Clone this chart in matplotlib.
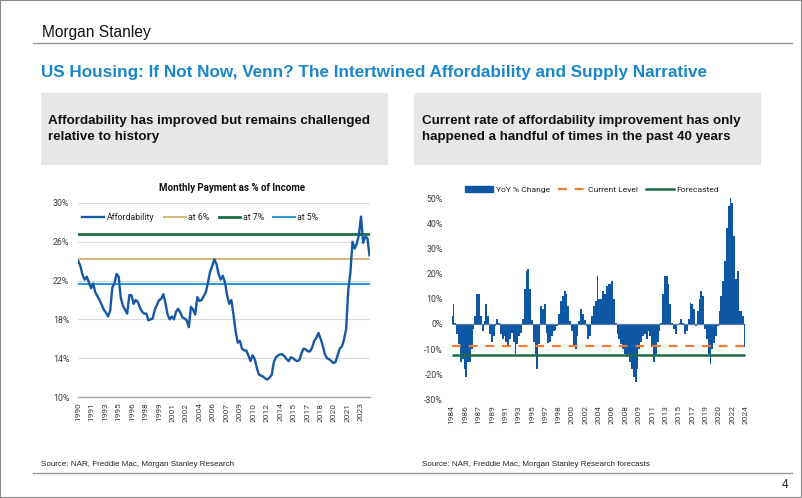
import matplotlib
matplotlib.use('Agg')
import matplotlib.pyplot as plt
from matplotlib.lines import Line2D
from matplotlib.patches import Rectangle, Patch
import numpy as np

# ---------------- data ----------------
# Monthly payment as % of income, quarterly readings from Q2 1990
affordability = [
    24.0, 23.5, 22.6, 22.1, 22.4, 21.8, 21.2, 21.7, 20.8, 20.4,
    20.0, 19.5, 19.0, 18.7, 18.3, 18.9, 21.3, 21.7, 22.7, 22.4,
    20.2, 19.4, 19.0, 18.6, 20.5, 20.5, 19.6, 20.0, 19.8, 19.2,
    18.8, 18.6, 18.6, 17.9, 18.0, 18.1, 19.0, 19.5, 20.0, 20.1,
    20.6, 19.7, 18.5, 18.0, 18.3, 18.0, 18.8, 19.1, 18.7, 18.2,
    18.1, 17.9, 17.2, 19.3, 19.0, 18.5, 20.3, 19.9, 20.0, 20.4,
    20.8, 21.8, 22.9, 23.5, 24.2, 23.7, 22.7, 22.1, 22.5, 21.8,
    20.5, 19.6, 20.0, 18.5, 16.8, 15.6, 15.8, 15.0, 14.8, 14.8,
    14.3, 13.7, 14.3, 13.9, 13.0, 12.3, 12.2, 12.1, 11.9, 11.8,
    12.0, 12.3, 13.6, 14.1, 14.3, 14.4, 14.4, 14.2, 13.9, 13.7,
    14.1, 14.0, 13.8, 13.7, 13.8, 14.5, 15.0, 14.9, 14.7, 14.7,
    15.1, 15.8, 16.1, 16.6, 16.0, 15.3, 14.4, 14.0, 13.9, 13.7,
    13.5, 13.6, 14.3, 15.0, 15.2, 15.9, 17.0, 21.0, 22.8, 26.0,
    25.3, 25.8, 26.7, 28.6, 25.9, 26.5, 26.4, 24.6,
]
left_tick_labels = ['1990', '1991', '1993', '1995', '1996', '1998', '1999', '2001',
                    '2002', '2004', '2006', '2007', '2009', '2010', '2012', '2014',
                    '2015', '2017', '2018', '2020', '2021', '2023']
left_yticks = [10, 14, 18, 22, 26, 30]
level_at_6 = 24.2
level_at_7 = 26.8
level_at_5 = 21.7

# YoY % change in affordability, quarterly readings from 1984
yoy_change = [
    3, 8, 0.5, -4, -8, -15, -14, -18, -21, -15,
    -15, -10, -2, 3, 12, 12, 3, -3, 1, 8,
    3, -4, -7, -5, -1, 2, 0.5, -4, -6, -5,
    -7, -9, -6, -3.5, -7, -12, -8, -5, -3.5, 2,
    14, 21, 22, 14, 1.5, -7, -12, -18, -8, 7,
    6, 8, -3.5, -7.5, -7, -5, -3, -2.5, -1, 4,
    9, 11, 13, 12, 7, 1, -3, -9, -10, -5,
    1, 6, 4, 1.5, -1, -6, -5, 3, 7, 9,
    19, 10, 10, 13, 12, 15, 16, 16, 17, 10,
    0.5, -4, -6, -8, -10, -12, -13, -12, -15, -18,
    -21, -23, -18, -10, -7, -5, -4, -6, -3, -5,
    -9, -15, -12, -7, -3, 0.5, 12, 19, 19, 16,
    8, 0.5, -2, -4, -0.5, 0.5, 2, 0.5, -4, -3,
    2, 8.5, 8, 6, -1, 5, 10, 13, 11, -2,
    -6, -12, -16, -10, -7.5, -5, -1, 5, 11, 17,
    25, 38, 47, 50, 48, 35, 18, 21, 5, 5,
    3, -9,
]
right_tick_labels = ['1984', '1986', '1987', '1989', '1991', '1993', '1995', '1997',
                     '1998', '2000', '2002', '2004', '2006', '2008', '2009', '2011',
                     '2013', '2015', '2017', '2019', '2020', '2022', '2024']
right_yticks = [-30, -20, -10, 0, 10, 20, 30, 40, 50]
current_level = -8.9
forecasted = -12.3

# ---------------- style ----------------
W, H = 802, 498
fig = plt.figure(figsize=(W / 100, H / 100), dpi=100)

def fx(x):
    return x / W

def fy(y):
    return 1 - y / H

CHART = ['Roboto', 'DejaVu Sans']
ARIAL = ['Liberation Sans', 'DejaVu Sans']
BLUE = '#1658a6'
BAR = '#0d57a5'
GREEN = '#1f6b48'
TAN = '#c9ad5e'
LBLUE = '#2d9bd6'
ORANGE = '#ec7d32'
TXT = '#3a3a3a'

# frame
fig.patches.append(Rectangle((0, 0), 1, 1, transform=fig.transFigure, fill=False,
                             ec='#8a8a8a', lw=1.5))

# header
fig.text(fx(42.5), fy(37.3), 'Morgan Stanley', fontsize=11.2, family=ARIAL,
         color='#111111', va='baseline')
fig.add_artist(Line2D([fx(33), fx(792)], [fy(43.3), fy(43.3)], transform=fig.transFigure,
                      color='#9a9a9a', lw=1))
fig.text(fx(41), fy(72), 'US Housing: If Not Now, Venn? The Intertwined Affordability and Supply Narrative',
         fontsize=12.3, family=ARIAL, fontweight='bold', color='#1b87c9', va='center')

# grey boxes
for bx in (41, 414):
    fig.patches.append(Rectangle((fx(bx), fy(165)), 347 / W, (165 - 92.7) / H,
                                 transform=fig.transFigure, fc='#e7e7e7', ec='none'))
fig.text(fx(48), fy(121), 'Affordability has improved but remains challenged',
         fontsize=9.65, family=ARIAL, fontweight='bold', color='#111111', va='center')
fig.text(fx(48), fy(137), 'relative to history',
         fontsize=9.65, family=ARIAL, fontweight='bold', color='#111111', va='center')
fig.text(fx(422), fy(121), 'Current rate of affordability improvement has only',
         fontsize=9.65, family=ARIAL, fontweight='bold', color='#111111', va='center')
fig.text(fx(422), fy(137), 'happened a handful of times in the past 40 years',
         fontsize=9.65, family=ARIAL, fontweight='bold', color='#111111', va='center')

# footer
fig.text(fx(41), fy(465), 'Source: NAR, Freddie Mac, Morgan Stanley Research',
         fontsize=5.8, family=ARIAL, color='#222222', va='center')
fig.text(fx(422), fy(465), 'Source: NAR, Freddie Mac, Morgan Stanley Research forecasts',
         fontsize=5.8, family=ARIAL, color='#222222', va='center')
fig.add_artist(Line2D([fx(33), fx(792)], [fy(472.5), fy(472.5)], transform=fig.transFigure,
                      color='#9a9a9a', lw=1))
fig.text(fx(785), fy(485), '4', fontsize=8.5, family=ARIAL, color='#222222',
         va='center', ha='center')

# ---------------- left chart ----------------
ax1 = fig.add_axes([fx(77.7), fy(397), (370 - 77.7) / W, (397 - 203) / H])
x1 = np.arange(len(affordability)) * 3
for yv in left_yticks[1:]:
    ax1.axhline(yv, color='#dadada', lw=0.8, zorder=0)
ax1.axhline(level_at_7, color=GREEN, lw=2.0, zorder=2)
ax1.axhline(level_at_6, color=TAN, lw=1.2, zorder=2)
ax1.axhline(level_at_5, color=LBLUE, lw=1.5, zorder=2)
ax1.plot(x1, affordability, color=BLUE, lw=1.7, zorder=4, solid_joinstyle='round')
ax1.set_ylim(10, 30)
ax1.set_xlim(-0.85, 411.7)
ax1.set_yticks(left_yticks)
ax1.set_yticklabels([f'{v}%' for v in left_yticks])
ax1.set_xticks(np.arange(len(left_tick_labels)) * 19)
ax1.set_xticklabels(left_tick_labels, rotation=90)
for s in ('top', 'right', 'left'):
    ax1.spines[s].set_visible(False)
ax1.spines['bottom'].set_color('#a8a8a8')
ax1.spines['bottom'].set_linewidth(1.0)
ax1.tick_params(axis='y', length=0, pad=6.0, labelsize=6.3, labelcolor=TXT)
ax1.tick_params(axis='x', length=0, pad=4.0, labelsize=6.0, labelcolor=TXT)
for lab in ax1.get_xticklabels() + ax1.get_yticklabels():
    lab.set_family(CHART)
ax1.patch.set_alpha(0)

fig.text(fx(232), fy(188), 'Monthly Payment as % of Income', ha='center', va='center',
         fontsize=7.0, fontweight='bold', family=CHART, color='#111111')

h1 = [Line2D([], [], color=BLUE, lw=1.7), Line2D([], [], color=TAN, lw=1.2),
      Line2D([], [], color=GREEN, lw=2.0), Line2D([], [], color=LBLUE, lw=1.5)]
fig.legend(h1, ['Affordability', 'at 6%', 'at 7%', 'at 5%'], loc='center',
           bbox_to_anchor=(fx(200.5), fy(217.7)), ncol=4, frameon=False,
           prop={'family': CHART, 'size': 6.3}, handlelength=2.5, handletextpad=0.25,
           columnspacing=1.1, labelcolor='#222222')

# ---------------- right chart ----------------
ax2 = fig.add_axes([fx(449), fy(399.3), (748 - 449) / W, (399.3 - 198.3) / H])
x2 = np.arange(len(yoy_change)) * 3
ax2.fill_between(x2, 0, yoy_change, step='mid', color=BAR, lw=0, zorder=2)
ax2.hlines(0, x2[0], x2[-1], color='#5a7ca6', lw=0.9, zorder=3)
ax2.hlines(current_level, x2[0], x2[-1], color=ORANGE, lw=1.6, linestyles=(0, (4, 3.5)), zorder=4)
ax2.hlines(forecasted, x2[0], x2[-1], color=GREEN, lw=1.8, zorder=4)
ax2.set_xlim(-4.45, 487.8)
ax2.set_ylim(-30, 50)
ax2.set_yticks(right_yticks)
ax2.set_yticklabels([f'{v}%' for v in right_yticks])
ax2.set_xticks(np.arange(len(right_tick_labels)) * 22)
ax2.set_xticklabels(right_tick_labels, rotation=90)
for s in ax2.spines.values():
    s.set_visible(False)
ax2.tick_params(axis='y', length=0, pad=4.3, labelsize=6.3, labelcolor=TXT)
ax2.tick_params(axis='x', length=0, pad=4.1, labelsize=6.0, labelcolor=TXT)
for lab in ax2.get_xticklabels() + ax2.get_yticklabels():
    lab.set_family(CHART)
ax2.patch.set_alpha(0)

h2 = [Patch(color=BAR), Line2D([], [], color=ORANGE, lw=1.6, ls=(0, (4, 3.5))),
      Line2D([], [], color=GREEN, lw=1.8)]
fig.legend(h2, ['YoY % Change', 'Current Level', 'Forecasted'], loc='center',
           bbox_to_anchor=(fx(592), fy(189.7)), ncol=3, frameon=False,
           prop={'family': CHART, 'size': 6.1}, handlelength=3.3, handletextpad=0.3,
           columnspacing=0.9, labelcolor='#222222')

fig.savefig('out.png', dpi=100)
